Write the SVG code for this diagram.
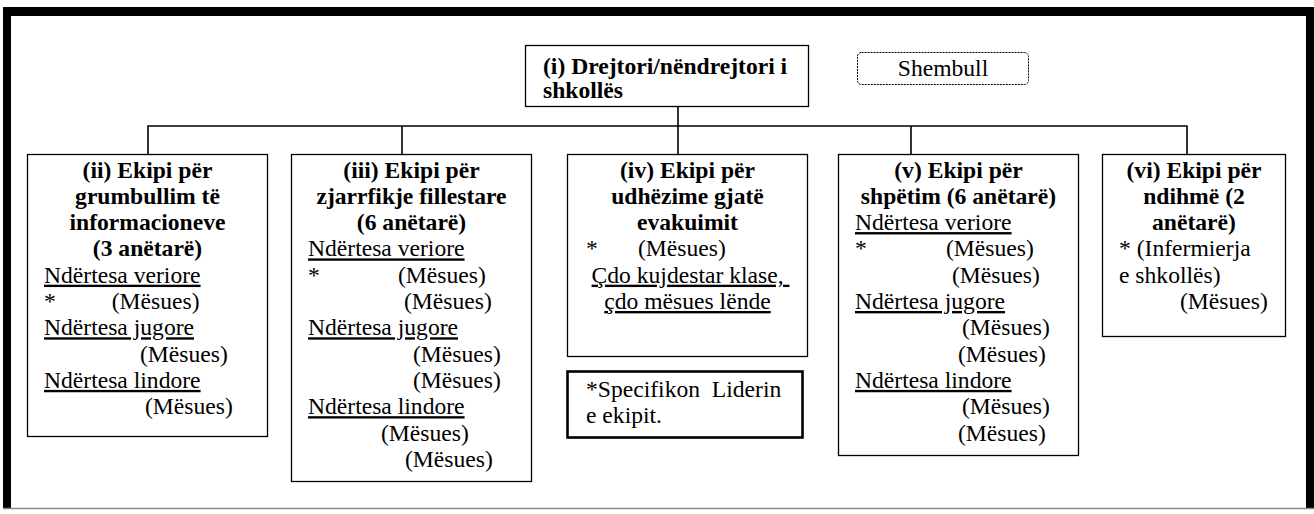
<svg xmlns="http://www.w3.org/2000/svg" width="1314" height="514" viewBox="0 0 1314 514">
<style>
.t{font-family:'Liberation Serif',serif;font-size:23.6px;fill:#000}
.b{font-weight:bold;text-anchor:middle}
.c{text-anchor:middle}
.u{text-decoration:underline}
.box{fill:#fff;stroke:#000;stroke-width:1.3}
.conn{fill:none;stroke:#000;stroke-width:1.6}
</style>
<rect width="1314" height="514" fill="#fff"/>
<g id="frame">
<rect x="3" y="7" width="1311" height="9" fill="#000"/>
<rect x="3" y="7" width="8" height="502" fill="#000"/>
<rect x="1306" y="7" width="8" height="502" fill="#000"/>
<line x1="3" y1="508.5" x2="1314" y2="508.5" stroke="#888" stroke-width="1.5"/>
</g>
<g id="connectors">
<path class="conn" d="M678 107V154M148 154V126H1187V154M402 126V154M911 126V154"/>
</g>
<g font-family="'Liberation Serif', serif">
<g id="node-i">
<rect class="box" x="525.5" y="45.5" width="283" height="61"/>
<text class="t" font-weight="bold" x="543" y="73.5">(i) Drejtori/nëndrejtori i</text>
<text class="t" font-weight="bold" x="543" y="98">shkollës</text>
</g>
<g id="node-shembull">
<rect x="857.5" y="52.5" width="171" height="32" rx="4" fill="#fff" stroke="#000" stroke-width="1" stroke-dasharray="2,1"/>
<text class="t c" x="943" y="76">Shembull</text>
</g>
<g id="node-ii">
<rect class="box" x="27.5" y="154.5" width="240" height="282"/>
<text class="t b" x="147.5" y="177.5">(ii) Ekipi për</text>
<text class="t b" x="147.5" y="203.8">grumbullim të</text>
<text class="t b" x="147.5" y="230.1">informacioneve</text>
<text class="t b" x="147.5" y="256.4">(3 anëtarë)</text>
<text class="t u" x="44" y="282.7">Ndërtesa veriore</text>
<text class="t" y="309"><tspan x="44">*</tspan><tspan x="111.7">(Mësues)</tspan></text>
<text class="t u" x="44" y="335.3">Ndërtesa jugore</text>
<text class="t" x="140" y="361.6">(Mësues)</text>
<text class="t u" x="44" y="387.9">Ndërtesa lindore</text>
<text class="t" x="145" y="414.2">(Mësues)</text>
</g>
<g id="node-iii">
<rect class="box" x="291.5" y="154.5" width="240" height="327"/>
<text class="t b" x="411.5" y="177.5">(iii) Ekipi për</text>
<text class="t b" x="411.5" y="203.8">zjarrfikje fillestare</text>
<text class="t b" x="411.5" y="230.1">(6 anëtarë)</text>
<text class="t u" x="308" y="256.4">Ndërtesa veriore</text>
<text class="t" y="282.7"><tspan x="308">*</tspan><tspan x="398">(Mësues)</tspan></text>
<text class="t" x="404" y="309">(Mësues)</text>
<text class="t u" x="308" y="335.3">Ndërtesa jugore</text>
<text class="t" x="413" y="361.6">(Mësues)</text>
<text class="t" x="413" y="387.9">(Mësues)</text>
<text class="t u" x="308" y="414.2">Ndërtesa lindore</text>
<text class="t" x="381" y="440.5">(Mësues)</text>
<text class="t" x="405" y="466.8">(Mësues)</text>
</g>
<g id="node-iv">
<rect class="box" x="567.5" y="154.5" width="240" height="202"/>
<text class="t b" x="687.5" y="177.5">(iv) Ekipi për</text>
<text class="t b" x="687.5" y="203.8">udhëzime gjatë</text>
<text class="t b" x="687.5" y="230.1">evakuimit</text>
<text class="t" y="256.4"><tspan x="586">*</tspan><tspan x="638">(Mësues)</tspan></text>
<text class="t c u" x="690.5" y="282.7">Çdo kujdestar klase,&#160;</text>
<text class="t c u" x="687.5" y="309">çdo mësues lënde</text>
</g>
<g id="node-note">
<rect x="567.5" y="371.5" width="235" height="66" fill="#fff" stroke="#000" stroke-width="2.6"/>
<text class="t" x="586" y="397" xml:space="preserve">*Specifikon  Liderin</text>
<text class="t" x="586" y="423.3">e ekipit.</text>
</g>
<g id="node-v">
<rect class="box" x="838.5" y="154.5" width="240" height="301"/>
<text class="t b" x="958.5" y="177.5">(v) Ekipi për</text>
<text class="t b" x="958.5" y="203.8">shpëtim (6 anëtarë)</text>
<text class="t u" x="855" y="230.1">Ndërtesa veriore</text>
<text class="t" y="256.4"><tspan x="855">*</tspan><tspan x="946">(Mësues)</tspan></text>
<text class="t" x="952" y="282.7">(Mësues)</text>
<text class="t u" x="855" y="309">Ndërtesa jugore</text>
<text class="t" x="962" y="335.3">(Mësues)</text>
<text class="t" x="958" y="361.6">(Mësues)</text>
<text class="t u" x="855" y="387.9">Ndërtesa lindore</text>
<text class="t" x="962" y="414.2">(Mësues)</text>
<text class="t" x="958" y="440.5">(Mësues)</text>
</g>
<g id="node-vi">
<rect class="box" x="1102.5" y="154.5" width="183" height="182"/>
<text class="t b" x="1194" y="177.5">(vi) Ekipi për</text>
<text class="t b" x="1194" y="203.8">ndihmë (2</text>
<text class="t b" x="1194" y="230.1">anëtarë)</text>
<text class="t" x="1119" y="256.4">* (Infermierja</text>
<text class="t" x="1119" y="282.7">e shkollës)</text>
<text class="t" x="1180" y="309">(Mësues)</text>
</g>
</g>
</svg>
